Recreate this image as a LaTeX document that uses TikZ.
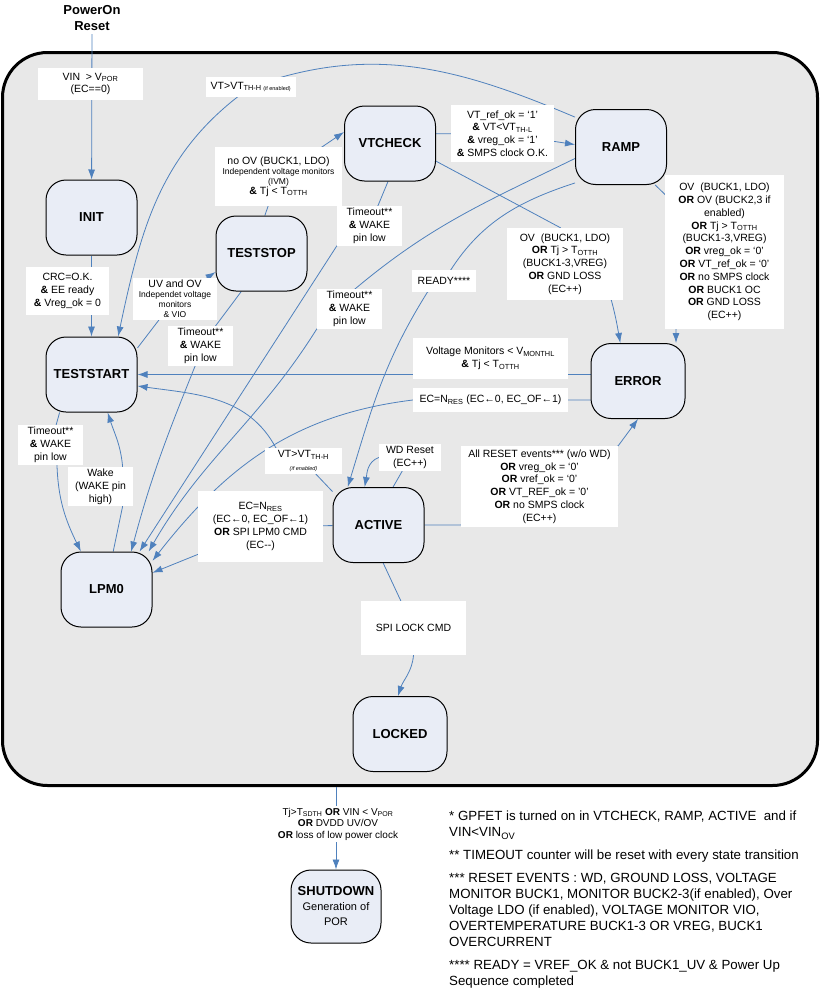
\documentclass[tikz,border=0pt]{standalone}
\usepackage{fontspec}
\setmainfont{Liberation Sans}
\usetikzlibrary{arrows.meta}

\definecolor{cinzafundo}{RGB}{232,232,232}
\definecolor{azulestado}{RGB}{233,237,246}
\definecolor{azullinha}{RGB}{79,129,189}

\newcommand{\miudo}{\fontsize{8.5}{10}\selectfont}
\newcommand{\minusculo}{\fontsize{5.5}{6.5}\selectfont}
\newcommand{\tamnormal}{\fontsize{10.5}{12.8}\selectfont}

\pgfdeclarelayer{atras}
\pgfsetlayers{atras,main}

\tikzset{
  estado/.style={draw, line width=1pt, fill=azulestado, rounded corners=20pt, minimum width=91pt, minimum height=75pt, inner sep=0pt, align=center, font=\fontsize{13}{15}\selectfont\bfseries},
  cond/.style={fill=white, inner sep=2pt, align=center, font=\tamnormal},
  trans/.style={draw=azullinha, line width=0.8pt},
  seta/.style={trans, -{Latex[length=10pt,width=7pt]}}
}

\begin{document}
\begin{tikzpicture}[x=1pt, y=1pt] %Início do diagrama, 1 unidade = 1 ponto
\useasboundingbox (0,0) rectangle (820,-988); %Área total
	%Moldura do sistema
\begin{pgfonlayer}{atras}
\node[draw, line width=3pt, fill=cinzafundo, rounded corners=45pt, minimum width=815pt, minimum height=733pt, inner sep=0pt] (sistema) at (410,-419) {};
\end{pgfonlayer}
\node[font=\fontsize{13}{16}\selectfont\bfseries, align=center] (por) at (92,-18) {PowerOn\\Reset}; %Entrada
	%Estados
\node[estado] (init) at (91.5,-217.5) {INIT};
\node[estado] (teststart) at (91.5,-374.5) {TESTSTART};
\node[estado] (teststop) at (261.5,-253.5) {TESTSTOP};
\node[estado] (vtcheck) at (390,-143.5) {VTCHECK};
\node[estado] (ramp) at (621,-147) {RAMP};
\node[estado, minimum width=94pt] (error) at (638,-381) {ERROR};
\node[estado] (active) at (378.5,-525) {ACTIVE};
\node[estado] (lpm0) at (106.5,-589.5) {LPM0};
\node[estado, minimum width=94pt] (locked) at (400,-734) {LOCKED};
\node[estado, minimum width=90pt, minimum height=73pt] (shutdown) at (336,-906.5) {SHUTDOWN\\\fontsize{11}{13}\selectfont\mdseries Generation of\\\fontsize{11}{13}\selectfont\mdseries POR};
	%Condições das transições
\node[cond, minimum width=105pt, minimum height=32pt] (lvin) at (90.5,-84) {VIN \ > V\textsubscript{POR}\\(EC==0)};
\node[cond, minimum width=90pt, minimum height=20pt] (lvt1) at (251,-87) {VT>VT\textsubscript{TH-H \minusculo(if enabled)}};
\node[cond, minimum width=83pt, minimum height=48pt] (lcrc) at (67.5,-291) {CRC=O.K.\\\textbf{\&} EE ready\\\textbf{\&} Vreg\_ok = 0};
\node[cond, minimum width=84pt, minimum height=42pt, font=\miudo] (luvov) at (175,-299) {\tamnormal UV and OV\\\miudo Independet voltage\\\miudo monitors\\\miudo \& VIO};
\node[cond, minimum width=127pt, minimum height=59pt, font=\miudo] (lnoov) at (278.5,-176.5) {\tamnormal no OV (BUCK1, LDO)\\\miudo Independent voltage monitors\\\miudo (IVM)\\\tamnormal\textbf{\&} Tj < T\textsubscript{OTTH}};
\node[cond, minimum width=65pt, minimum height=38pt] (lto1) at (200.5,-346) {Timeout**\\\textbf{\&} WAKE\\pin low};
\node[cond, minimum width=65pt, minimum height=38pt] (lto2) at (369.5,-226) {Timeout**\\\textbf{\&} WAKE\\pin low};
\node[cond, minimum width=65pt, minimum height=38pt] (lto3) at (349.5,-309) {Timeout**\\\textbf{\&} WAKE\\pin low};
\node[cond, minimum width=65pt, minimum height=38pt] (lto4) at (50.5,-445) {Timeout**\\\textbf{\&} WAKE\\pin low};
\node[cond, minimum width=65pt, minimum height=37pt] (lwake) at (100.5,-486.5) {Wake\\(WAKE pin\\high)};
\node[cond, minimum width=64pt, minimum height=22pt] (lready) at (444,-281) {READY****};
\node[cond, minimum width=103pt, minimum height=57pt] (lvtref) at (502.5,-133.5) {VT\_ref\_ok = ‘1’\\\textbf{\&} VT<VT\textsubscript{TH-L}\\\textbf{\&} vreg\_ok = ‘1’\\\textbf{\&} SMPS clock O.K.};
\node[cond, minimum width=116pt, minimum height=72pt] (lov1) at (565,-264) {OV \ (BUCK1, LDO)\\\textbf{OR} Tj > T\textsubscript{OTTH}\\(BUCK1-3,VREG)\\\textbf{OR} GND LOSS\\(EC++)};
\node[cond, minimum width=119pt, minimum height=154pt] (lov2) at (724.5,-252) {OV \ (BUCK1, LDO)\\\textbf{OR} OV (BUCK2,3 if\\enabled)\\\textbf{OR} Tj > T\textsubscript{OTTH}\\(BUCK1-3,VREG)\\\textbf{OR} vreg\_ok = ‘0’\\\textbf{OR} VT\_ref\_ok = ‘0’\\\textbf{OR} no SMPS clock\\\textbf{OR} BUCK1 OC\\\textbf{OR} GND LOSS\\(EC++)};
\node[cond, minimum width=155pt, minimum height=41pt] (lvmon) at (490.5,-358.5) {Voltage Monitors < V\textsubscript{MONTHL}\\\textbf{\&} Tj < T\textsubscript{OTTH}};
\node[cond, minimum width=155pt, minimum height=24pt] (lecn1) at (490.5,-400) {EC=N\textsubscript{RES} (EC←0, EC\_OF←1)};
\node[cond, minimum width=77pt, minimum height=22pt] (lvt2) at (303.5,-461) {VT>VT\textsubscript{TH-H}\\\minusculo\textit{(if enabled)}};
\node[cond, minimum width=62pt, minimum height=25pt] (lwd) at (410,-457.5) {WD Reset\\(EC++)};
\node[cond, minimum width=157pt, minimum height=81pt] (lall) at (539.5,-486.5) {All RESET events*** (w/o WD)\\\textbf{OR} vreg\_ok = ‘0’\\\textbf{OR} vref\_ok = ‘0’\\\textbf{OR} VT\_REF\_ok = '0'\\\textbf{OR} no SMPS clock\\(EC++)};
\node[cond, minimum width=125pt, minimum height=71pt] (lecn2) at (260.5,-526.5) {EC=N\textsubscript{RES}\\(EC←0, EC\_OF←1)\\\textbf{OR} SPI LPM0 CMD\\(EC-{}-)};
\node[cond, minimum width=105pt, minimum height=54pt] (lspi) at (413.5,-628) {SPI LOCK CMD};
\node[cond, font=\fontsize{10}{11.5}\selectfont] (lsd) at (338,-824) {Tj>T\textsubscript{SDTH} \textbf{OR} VIN < V\textsubscript{POR}\\\textbf{OR} DVDD UV/OV\\\textbf{OR} loss of low power clock};
	%Transições
\begin{pgfonlayer}{atras}
\draw[seta] (por) -- (init); %Reset -> INIT
\draw[seta] (init) -- (teststart); %INIT -> TESTSTART
\draw[seta] (teststart.30) -- (luvov.center) -- (teststop.202);
\draw[seta] (teststop.85) -- (lnoov.center) -- (vtcheck.166);
\draw[seta] (vtcheck.12) -- (lvtref.center) -- (ramp.177);
\draw[seta] (ramp.147) to[out=157,in=20] (lvt1.center) to[out=215,in=78] (teststart.55);
\draw[seta] (vtcheck.267) -- (lto2.center) -- (lto2.south west) -- (lpm0.49);
\draw[seta] (teststop.242) -- (lto1.center) -- (lto1.255) to[out=248,in=75] (lpm0.57);
\draw[seta] (ramp.194) to[out=206,in=40] (lto3.75) -- (lto3.center) -- (lto3.south west) to[out=238,in=60] (lpm0.42);
\draw[seta] (error.west |- lecn1) -- (lecn1.center) -- (lecn1.west) to[out=187,in=52] (lpm0.32);
\draw[seta] (error.west |- teststart) -- (teststart);
\draw[seta] (active.144) -- (lvt2.center) -- (lvt2.155) to[out=118,in=-8] (teststart.-14);
\draw[seta] (active) -- (lecn2.center) -- (lecn2.204) -- (lpm0.20);
\draw[seta] (active.69) -- (lwd.center) -- (lwd.west) to[out=200,in=80] (active.110); %WD reset
\draw[seta] (active.east) -- (lall.west |- active.east) -- (lall.center) -- (lall.north east) -- (error.south);
\draw[seta] (active.277) -- (lspi.center) -- (lspi.south) to[out=-95,in=72] (locked.93);
\draw[seta] (ramp.-48) -- (lov2.center) -- (lov2.south -| error.45) -- (error.45);
\draw[seta] (vtcheck.-21) -- (lov1.97) -- (lov1.center) -- (lov1.-38) to[out=-75,in=100] (error.115);
\draw[seta] (ramp.218) to[out=198,in=60] (lready.center) -- (lready.214) to[out=238,in=73] (active.129); %READY
\draw[seta] (teststart.230) -- (lto4.center) -- (lto4.-72) to[out=272,in=116] (lpm0.124);
\draw[seta] (lpm0.80) -- (lwake.-42) -- (lwake.42) to[out=95,in=-72] (teststart.-67); %Wake
\draw[seta] (sistema.south -| shutdown) -- (shutdown); %Sistema -> SHUTDOWN
\end{pgfonlayer}
	%Notas
\node[anchor=north west, align=left, inner sep=0pt, font=\fontsize{13.3}{16}\selectfont] (notas) at (449,-811) {{*} GPFET is turned on in VTCHECK, RAMP, ACTIVE \ and if\\
VIN<VIN\textsubscript{OV}\\[7pt]
{**} TIMEOUT counter will be reset with every state transition\\[7pt]
{***} RESET EVENTS : WD, GROUND LOSS, VOLTAGE\\
MONITOR BUCK1, MONITOR BUCK2-3(if enabled), Over\\
Voltage LDO (if enabled), VOLTAGE MONITOR VIO,\\
OVERTEMPERATURE BUCK1-3 OR VREG, BUCK1\\
OVERCURRENT\\[7pt]
{****} READY = VREF\_OK \& not BUCK1\_UV \& Power Up\\
Sequence completed};
\end{tikzpicture}
\end{document}
